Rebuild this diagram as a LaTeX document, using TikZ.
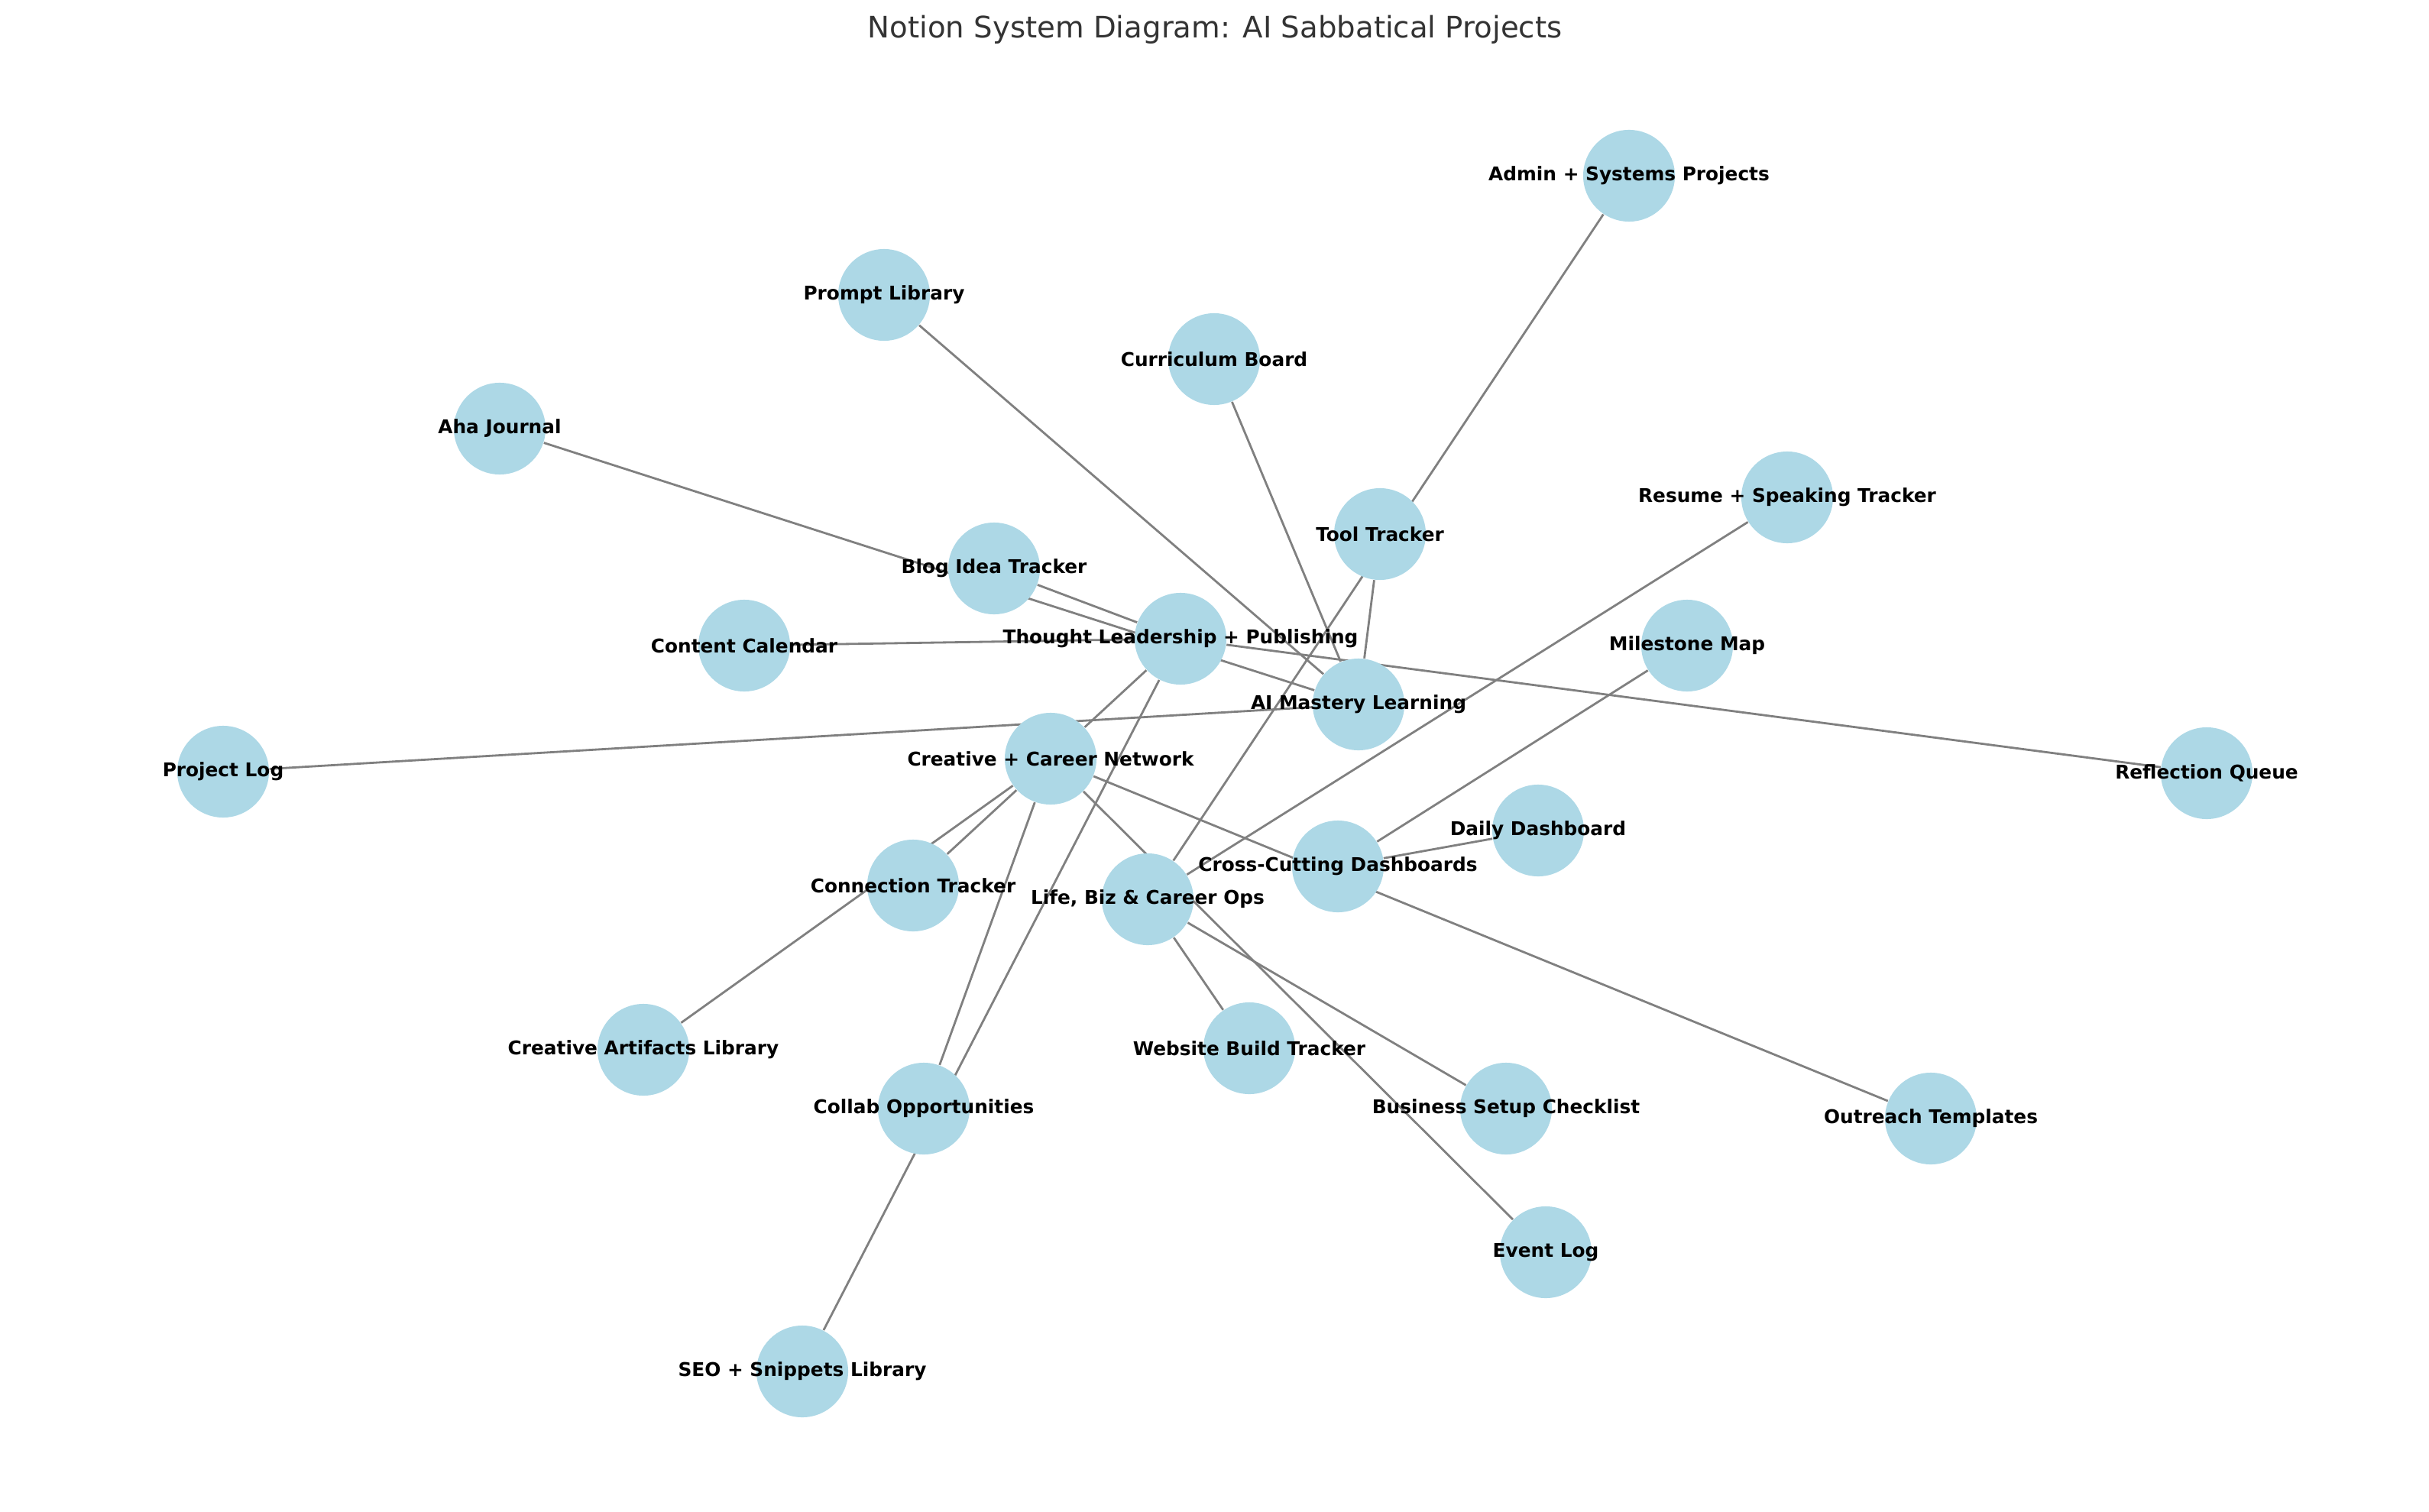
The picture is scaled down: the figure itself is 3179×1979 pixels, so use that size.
\documentclass[tikz,border=0pt]{standalone}
\usepackage{fontspec}
\setmainfont{DejaVu Sans}
\usetikzlibrary{backgrounds}
\definecolor{nodeblue}{RGB}{173,216,230}
\definecolor{edgegray}{RGB}{128,128,128}
\definecolor{titlegray}{RGB}{51,51,51}
\begin{document}
\begin{tikzpicture}[x=0.01cm,y=-0.01cm]
\tikzstyle{every node}+=[inner sep=0pt]
\tikzstyle{db}=[circle,fill=nodeblue,minimum size=1.2cm]
\tikzstyle{lbl}=[font=\fontsize{7.05}{8}\selectfont\bfseries,text=black]
\tikzstyle{link}=[draw=edgegray,line width=0.8pt]
\useasboundingbox (0,0) rectangle (3179,1979);

\node[anchor=base,text=titlegray,font=\fontsize{11}{13}\selectfont] (title) at (1590,50) {Notion System Diagram: AI Sabbatical Projects};

% AI Mastery Learning and its pages
\node[db] (ai) at (1778,922) {};
\node[db] (aha) at (654,561) {};
\node[db] (prompt) at (1157,386) {};
\node[db] (curric) at (1589,470) {};
\node[db] (tool) at (1806,699) {};
\node[db] (projlog) at (292,1010) {};

% Thought Leadership + Publishing
\node[db] (tl) at (1545,836) {};
\node[db] (blog) at (1301,744) {};
\node[db] (content) at (974,845) {};
\node[db] (reflect) at (2888,1012) {};
\node[db] (seo) at (1050,1795) {};

% Creative + Career Network
\node[db] (creative) at (1375,993) {};
\node[db] (conn) at (1195,1159) {};
\node[db] (artifacts) at (842,1374) {};
\node[db] (collab) at (1209,1451) {};
\node[db] (outreach) at (2527,1464) {};
\node[db] (event) at (2023,1639) {};

% Life, Biz & Career Ops
\node[db] (life) at (1502,1177) {};
\node[db] (admin) at (2132,230) {};
\node[db] (resume) at (2339,651) {};
\node[db] (website) at (1635,1372) {};
\node[db] (business) at (1971,1451) {};

% Cross-Cutting Dashboards
\node[db] (cross) at (1751,1134) {};
\node[db] (milestone) at (2208,845) {};
\node[db] (daily) at (2013,1087) {};

\begin{pgfonlayer}{background}
\draw[link] (ai) -- (aha);
\draw[link] (ai) -- (prompt);
\draw[link] (ai) -- (curric);
\draw[link] (ai) -- (tool);
\draw[link] (ai) -- (projlog);
\draw[link] (tl) -- (blog);
\draw[link] (tl) -- (content);
\draw[link] (tl) -- (reflect);
\draw[link] (tl) -- (seo);
\draw[link] (tl) -- (creative);
\draw[link] (creative) -- (conn);
\draw[link] (creative) -- (artifacts);
\draw[link] (creative) -- (collab);
\draw[link] (creative) -- (outreach);
\draw[link] (creative) -- (event);
\draw[link] (life) -- (admin);
\draw[link] (life) -- (resume);
\draw[link] (life) -- (website);
\draw[link] (life) -- (business);
\draw[link] (cross) -- (milestone);
\draw[link] (cross) -- (daily);
\end{pgfonlayer}

% labels on top
\node[lbl] (ai-l) at (ai) {AI Mastery Learning};
\node[lbl] (aha-l) at (aha) {Aha Journal};
\node[lbl] (prompt-l) at (prompt) {Prompt Library};
\node[lbl] (curric-l) at (curric) {Curriculum Board};
\node[lbl] (tool-l) at (tool) {Tool Tracker};
\node[lbl] (projlog-l) at (projlog) {Project Log};
\node[lbl] (tl-l) at (tl) {Thought Leadership + Publishing};
\node[lbl] (blog-l) at (blog) {Blog Idea Tracker};
\node[lbl] (content-l) at (content) {Content Calendar};
\node[lbl] (reflect-l) at (reflect) {Reflection Queue};
\node[lbl] (seo-l) at (seo) {SEO + Snippets Library};
\node[lbl] (creative-l) at (creative) {Creative + Career Network};
\node[lbl] (conn-l) at (conn) {Connection Tracker};
\node[lbl] (artifacts-l) at (artifacts) {Creative Artifacts Library};
\node[lbl] (collab-l) at (collab) {Collab Opportunities};
\node[lbl] (outreach-l) at (outreach) {Outreach Templates};
\node[lbl] (event-l) at (event) {Event Log};
\node[lbl] (life-l) at (life) {Life, Biz \& Career Ops};
\node[lbl] (admin-l) at (admin) {Admin + Systems Projects};
\node[lbl] (resume-l) at (resume) {Resume + Speaking Tracker};
\node[lbl] (website-l) at (website) {Website Build Tracker};
\node[lbl] (business-l) at (business) {Business Setup Checklist};
\node[lbl] (cross-l) at (cross) {Cross-Cutting Dashboards};
\node[lbl] (milestone-l) at (milestone) {Milestone Map};
\node[lbl] (daily-l) at (daily) {Daily Dashboard};
\end{tikzpicture}
\end{document}
